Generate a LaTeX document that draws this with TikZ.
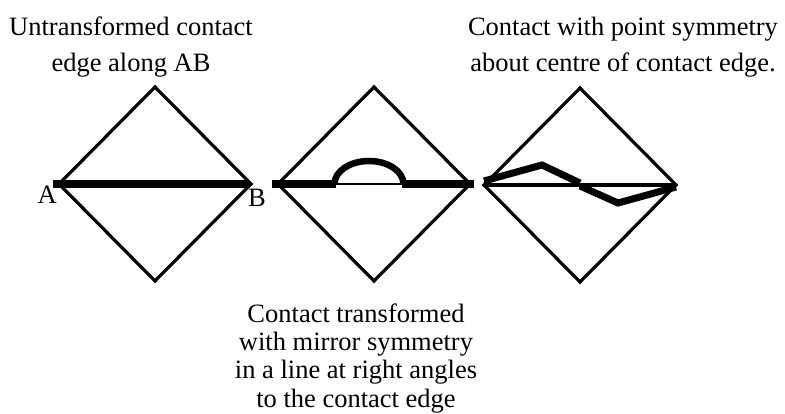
\documentclass[tikz,border=0pt]{standalone}
\usepackage{fontspec}
\setmainfont{Liberation Serif}
\usetikzlibrary{calc}
\tikzset{
  outline/.style={line width=3.2pt,line join=miter},
  contact/.style={line width=8pt},
  caption/.style={font=\fontsize{26.5}{28.3}\selectfont,inner sep=0pt,align=center},
  wide caption/.style={caption,font=\fontsize{26.5}{36}\selectfont},
}

\begin{document}
\begin{tikzpicture}[x=1pt,y=-1pt]
    \useasboundingbox (0,0) rectangle (785,414);
    \def\rx{96}
    \def\ry{97}
    \coordinate (plain) at (155,184);
    \coordinate (mirror) at (374,184);
    \coordinate (point) at (580,185);
    % the three elements
    \foreach \c in {plain,mirror,point}
        \draw[outline] ($(\c)+(-\rx,0)$) -- ($(\c)+(0,-\ry)$) -- ($(\c)+(\rx,0)$) -- ($(\c)+(0,\ry)$) -- cycle;
    \draw[line width=1.5pt] ($(mirror)+(-\rx,0)$) -- ($(mirror)+(\rx,0)$);
    \draw[outline] ($(point)+(-\rx,0)$) -- ($(point)+(\rx,0)$);
    % contact edges
    \draw[contact] (53,184) -- (249,184);
    \draw[contact] (272,184) -- (336,184);
    \draw[contact] (402,184) -- (474,184);
    \draw[line width=6.5pt] (334.5,184) arc(180:360:34.5 and 23);
    \draw[contact,line width=7pt] (484,181) -- (542,165) -- (580,183);
    \draw[contact,line width=7pt] (580,186) -- (618,203) -- (676,187);
    % labels
    \node[caption,anchor=base east] (A) at (57,204) {A};
    \node[caption,anchor=base west] (B) at (248,207) {B};
    \node[wide caption,anchor=base] (untransformed) at (131,72) {Untransformed contact\\edge along AB};
    \node[wide caption,anchor=base] (pointsym) at (623,72) {Contact with point symmetry\\about centre of contact edge.};
    \node[caption,anchor=base] (mirrorsym) at (356,407) {Contact transformed\\with mirror symmetry\\in a line at right angles\\to the contact edge};
\end{tikzpicture}
\end{document}
